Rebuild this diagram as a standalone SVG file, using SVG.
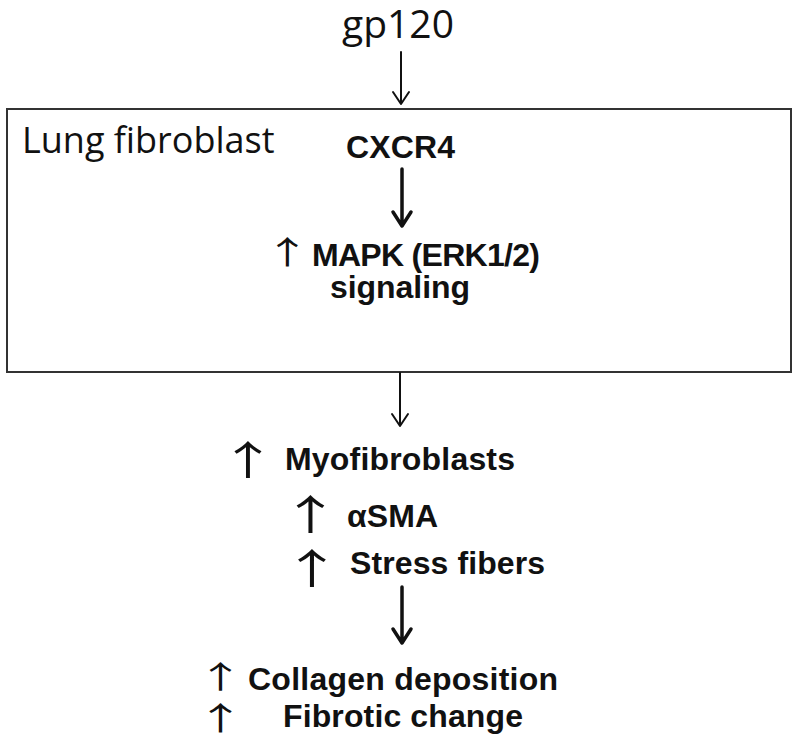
<svg xmlns="http://www.w3.org/2000/svg" width="800" height="744" viewBox="0 0 800 744">
<style>
.t{font-family:"Open Sans","Liberation Sans",sans-serif;fill:#111}
.b{font-family:"Liberation Sans",Arial,sans-serif;font-weight:bold;font-size:32px;fill:#111}
.up{font-family:"Noto Sans CJK JP","DejaVu Sans",sans-serif;fill:#111;text-anchor:middle}
.thin{stroke:#111;stroke-width:2;fill:none;stroke-linecap:round;stroke-linejoin:round}
.thick{stroke:#111;stroke-width:3.5;fill:none;stroke-linecap:round;stroke-linejoin:round}
</style>
<rect width="800" height="744" fill="#fff"/>
<g id="gp120"><text class="t" x="398" y="38" font-size="39" text-anchor="middle">gp120</text></g>
<g id="lung-fibroblast">
<rect x="7" y="109" width="784" height="263" fill="none" stroke="#333" stroke-width="2"/>
<text class="t" x="22" y="153" font-size="36">Lung fibroblast</text>
</g>
<g id="cxcr4"><text class="b" x="346" y="158" textLength="109">CXCR4</text></g>
<g id="mapk">
<text class="up" transform="translate(287.5,266) scale(1.4,1)" y="-2.2" font-size="32">↑</text>
<text class="b" x="312" y="266" textLength="228">MAPK (ERK1/2)</text>
<text class="b" x="330" y="298" textLength="140">signaling</text>
</g>
<g id="myofibroblasts">
<text class="up" transform="translate(248,478) scale(1.45,1)" y="-2.8" font-size="40">↑</text>
<text class="b" x="285" y="470" textLength="230">Myofibroblasts</text>
<text class="up" transform="translate(310.5,533) scale(1.45,1)" y="-2.9" font-size="41">↑</text>
<text class="b" x="347" y="527" textLength="91">αSMA</text>
<text class="up" transform="translate(312,587) scale(1.45,1)" y="-2.9" font-size="41">↑</text>
<text class="b" x="350" y="574" textLength="195">Stress fibers</text>
</g>
<g id="fibrosis">
<text class="up" transform="translate(220.5,690) scale(1.5,1)" y="-2.2" font-size="31">↑</text>
<text class="b" x="248" y="690" textLength="310">Collagen deposition</text>
<text class="up" transform="translate(220.5,732) scale(1.5,1)" y="-2.2" font-size="32">↑</text>
<text class="b" x="283" y="727" textLength="240">Fibrotic change</text>
</g>
<g id="connectors">
<path class="thin" d="M401 52V104M393 92L401 104L409 92"/>
<path class="thick" d="M402 169V226M393 212L402 226L411 212"/>
<path class="thin" d="M400 373V426M392 414L400 426L408 414"/>
<path class="thick" d="M402 587V643M393 629L402 643L411 629"/>
</g>
</svg>
